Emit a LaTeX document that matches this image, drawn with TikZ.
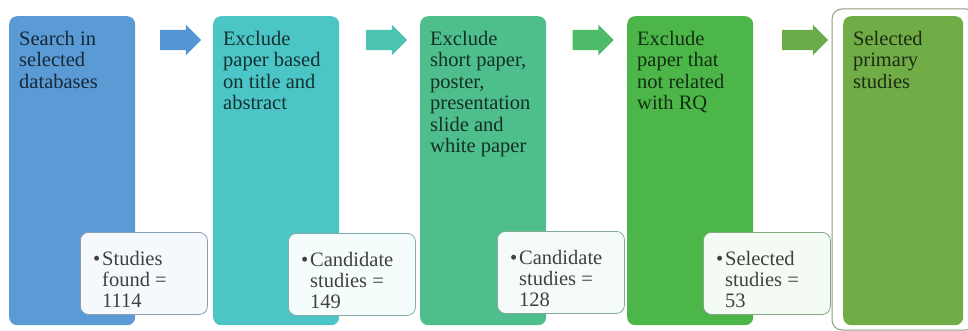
\documentclass[tikz,border=0pt]{standalone}
\usepackage{fontspec}
\setmainfont{Liberation Serif}
\usetikzlibrary{shapes.arrows, positioning}
\definecolor{color1}{RGB}{91,155,213}
\definecolor{color2}{RGB}{75,197,197}
\definecolor{color3}{RGB}{78,191,140}
\definecolor{color4}{RGB}{76,183,72}
\definecolor{color5}{RGB}{112,173,71}
\definecolor{arrow1}{RGB}{84,150,212}
\definecolor{arrow2}{RGB}{76,196,178}
\definecolor{arrow3}{RGB}{78,187,104}
\definecolor{arrow4}{RGB}{106,173,72}
\definecolor{framecol}{RGB}{140,156,124}

\begin{document}
\begin{tikzpicture}[x=1pt,y=-1pt,
	stagebox/.style={rectangle, rounded corners=8pt, anchor=north west, minimum width=126pt, minimum height=309pt, inner sep=0pt},
	stagetext/.style={anchor=north west, align=left, inner sep=0pt, xshift=10pt, yshift=-15pt, font=\fontsize{20.5}{21.5}\selectfont},
	countbox/.style={rectangle, rounded corners=8pt, anchor=north west, minimum width=127pt, minimum height=82pt, inner sep=0pt, line width=0.8pt},
	counttext/.style={anchor=north west, align=left, inner sep=0pt, xshift=22pt, yshift=-19pt, text=black!75, font=\fontsize{20.5}{21}\selectfont},
	flowarrow/.style={single arrow, single arrow head extend=5pt, inner xsep=0pt, inner ysep=10pt, minimum height=41pt, draw=none}]
	\useasboundingbox (0,0) rectangle (968,331);
		
		% stages
		\node[stagebox, fill=color1] (s1) at (9,16) {};
		\node[stagetext, text=color1!25!black] (t1) at (s1.north west) {Search in\\selected\\databases};
		\node[stagebox, fill=color2] (s2) at (213,16) {};
		\node[stagetext, text=color2!25!black] (t2) at (s2.north west) {Exclude\\paper based\\on title and\\abstract};
		\node[stagebox, fill=color3] (s3) at (420,16) {};
		\node[stagetext, text=color3!25!black] (t3) at (s3.north west) {Exclude\\short paper,\\poster,\\presentation\\slide and\\white paper};
		\node[stagebox, fill=color4] (s4) at (627,16) {};
		\node[stagetext, text=color4!25!black] (t4) at (s4.north west) {Exclude\\paper that\\not related\\with RQ};
		\draw[framecol, line width=1pt, rounded corners=10pt] (832,9) rectangle (976,330);
		\node[stagebox, fill=color5, minimum width=120pt] (s5) at (843,16) {};
		\node[stagetext, text=color5!25!black] (t5) at (s5.north west) {Selected\\primary\\studies};
		
		% counts
		\node[countbox, fill=color1!6!white, draw=color1!60!black!60!white] (c1) at (80,232) {};
		\node[counttext] (n1) at (c1.north west) {\llap{\textbullet\hspace{2pt}}Studies\\found =\\1114};
		\node[countbox, fill=color2!6!white, draw=color2!60!black!60!white] (c2) at (288,233) {};
		\node[counttext] (n2) at (c2.north west) {\llap{\textbullet\hspace{2pt}}Candidate\\studies =\\149};
		\node[countbox, fill=color3!6!white, draw=color3!60!black!60!white] (c3) at (497,231) {};
		\node[counttext] (n3) at (c3.north west) {\llap{\textbullet\hspace{2pt}}Candidate\\studies =\\128};
		\node[countbox, fill=color4!6!white, draw=color4!60!black!60!white] (c4) at (703,232) {};
		\node[counttext] (n4) at (c4.north west) {\llap{\textbullet\hspace{2pt}}Selected\\studies =\\53};
		
		% arrows
		\node[flowarrow, fill=arrow1] (a1) at (175.5,40) {};
		\node[flowarrow, fill=arrow2] (a2) at (381.5,40) {};
		\node[flowarrow, fill=arrow3] (a3) at (588,40) {};
		\node[flowarrow, fill=arrow4, minimum height=46pt] (a4) at (800,40) {};
		
		\end{tikzpicture}
\end{document}
